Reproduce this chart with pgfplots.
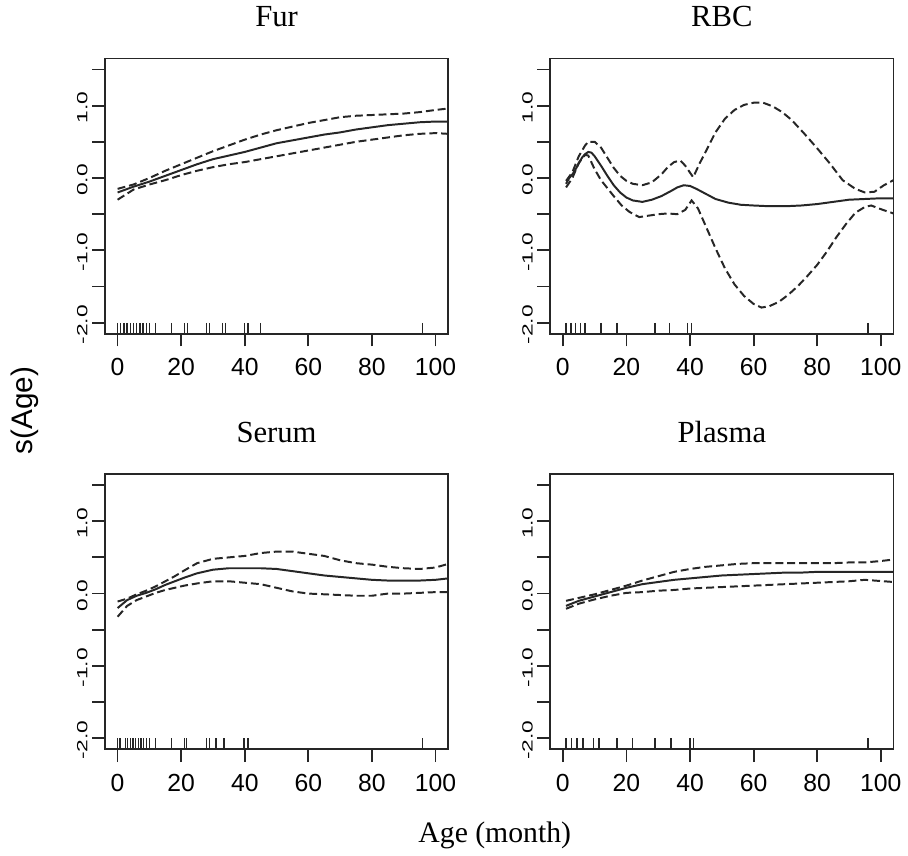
\documentclass[border=0pt]{standalone}
\usepackage{fontspec}
\setmainfont{Liberation Serif}
\setsansfont{Liberation Sans}
\usepackage{pgfplots}
\pgfplotsset{compat=1.18}

\pgfplotsset{
  rplot/.style={
    scale only axis, width=173.5pt, height=139pt, anchor=south west,
    xmin=-4, xmax=104, ymin=-2.15, ymax=1.65,
    axis line style={line width=0.9pt, black!85},
    xtick={0,20,...,100}, ytick={-2,-1.5,...,1.5},
    yticklabels={-2.0,,-1.0,,0.0,,1.0,},
    tick align=outside, tick pos=left,
    major tick length=6.5pt,
    tick style={line width=0.9pt, black!85},
    /pgf/number format/assume math mode=true,
    xticklabel style={font=\sffamily\fontsize{12.5}{14}\selectfont, anchor=north, yshift=-2.5pt},
    yticklabel style={font=\sffamily\fontsize{11.5}{13}\selectfont, rotate=90, yscale=0.65, anchor=south, xshift=-1pt},
    title style={font=\fontsize{15.5}{18}\selectfont, at={(0.5,1)}, anchor=base, yshift=10pt},
  },
  fit/.style={line width=1pt, black!85},
  band/.style={line width=1pt, black!85, dash pattern=on 4pt off 2pt},
  rug/.style={only marks, mark=|, mark size=2.75pt, mark options={line width=0.7pt, black!85}},
}

\begin{document}
\begin{tikzpicture}
\path (0,0) rectangle (454pt,428.5pt);

% Fur
\begin{axis}[rplot, at={(53pt,262pt)}, title={Fur}]
\addplot[fit] coordinates {(0,-0.20) (5,-0.12) (10,-0.05) (15,0.03) (20,0.11) (25,0.19) (30,0.26) (35,0.31) (40,0.36) (45,0.42) (50,0.48) (55,0.52) (60,0.56) (65,0.60) (70,0.63) (75,0.67) (80,0.70) (85,0.73) (90,0.75) (95,0.77) (100,0.78) (104,0.78)};
\addplot[band] coordinates {(0,-0.15) (5,-0.09) (10,0.00) (15,0.10) (20,0.19) (25,0.28) (30,0.37) (35,0.45) (40,0.53) (45,0.60) (50,0.66) (55,0.71) (60,0.76) (65,0.80) (70,0.84) (75,0.86) (80,0.87) (85,0.88) (90,0.89) (95,0.91) (100,0.94) (104,0.96)};
\addplot[band] coordinates {(0,-0.30) (5,-0.16) (10,-0.09) (15,-0.03) (20,0.04) (25,0.10) (30,0.15) (35,0.19) (40,0.22) (45,0.26) (50,0.30) (55,0.34) (60,0.38) (65,0.42) (70,0.46) (75,0.50) (80,0.53) (85,0.56) (90,0.59) (95,0.61) (100,0.62) (104,0.61)};
\addplot[rug] coordinates {(0,-2.075) (1,-2.075) (2,-2.075) (3,-2.075) (4,-2.075) (5,-2.075) (6,-2.075) (7,-2.075) (8,-2.075) (9,-2.075) (10,-2.075) (12,-2.075) (17,-2.075) (21,-2.075) (22,-2.075) (28,-2.075) (29,-2.075) (33,-2.075) (34,-2.075) (40,-2.075) (41,-2.075) (45,-2.075) (96,-2.075)};
\end{axis}

% RBC
\begin{axis}[rplot, at={(278pt,262pt)}, title={RBC}]
\addplot[fit] coordinates {(1,-0.08) (2,0.00) (3,0.05) (4,0.12) (5,0.20) (6,0.28) (7,0.33) (8,0.36) (9,0.35) (10,0.30) (12,0.17) (14,0.03) (16,-0.10) (18,-0.20) (20,-0.27) (22,-0.31) (25,-0.33) (28,-0.30) (31,-0.25) (34,-0.18) (36,-0.13) (38,-0.10) (40,-0.11) (42,-0.15) (45,-0.22) (48,-0.29) (52,-0.34) (56,-0.37) (60,-0.38) (65,-0.39) (70,-0.39) (75,-0.38) (80,-0.36) (85,-0.33) (90,-0.30) (95,-0.29) (100,-0.28) (104,-0.28)};
\addplot[band] coordinates {(1,-0.04) (3,0.08) (5,0.30) (7,0.45) (8,0.50) (10,0.50) (12,0.42) (14,0.28) (16,0.14) (18,0.03) (20,-0.04) (22,-0.08) (25,-0.10) (28,-0.06) (31,0.05) (33,0.15) (35,0.22) (37,0.24) (38.5,0.17) (41,0.01) (43,0.20) (45,0.37) (48,0.63) (51,0.82) (54,0.94) (57,1.01) (60,1.04) (63,1.04) (66,0.99) (69,0.91) (72,0.80) (76,0.61) (80,0.41) (84,0.20) (88,-0.03) (92,-0.15) (95,-0.20) (98,-0.19) (101,-0.10) (104,-0.03)};
\addplot[band] coordinates {(1,-0.13) (3,0.00) (5,0.21) (7,0.32) (8,0.31) (10,0.12) (12,-0.03) (14,-0.14) (16,-0.25) (18.5,-0.38) (21,-0.47) (24,-0.54) (27,-0.52) (30,-0.50) (33,-0.49) (36,-0.50) (38.5,-0.44) (40.5,-0.31) (42.5,-0.42) (45,-0.67) (48,-0.97) (51,-1.25) (54,-1.47) (57,-1.63) (60,-1.74) (62.5,-1.79) (65,-1.77) (68,-1.71) (71,-1.61) (74,-1.49) (77,-1.35) (80,-1.20) (83,-1.02) (86,-0.82) (89,-0.64) (92,-0.48) (95,-0.40) (97,-0.38) (100,-0.43) (104,-0.49)};
\addplot[rug] coordinates {(1,-2.075) (2.5,-2.075) (4,-2.075) (5.5,-2.075) (7,-2.075) (12,-2.075) (17,-2.075) (29,-2.075) (33.5,-2.075) (39.3,-2.075) (40.4,-2.075) (96,-2.075)};
\end{axis}

% Serum
\begin{axis}[rplot, at={(53pt,52pt)}, title={Serum}]
\addplot[fit] coordinates {(0,-0.20) (3,-0.09) (6,-0.03) (9,0.01) (12,0.06) (15,0.12) (18,0.17) (21,0.22) (25,0.28) (30,0.33) (35,0.35) (40,0.35) (45,0.35) (50,0.34) (55,0.31) (60,0.28) (65,0.25) (70,0.23) (75,0.21) (80,0.19) (85,0.18) (90,0.18) (95,0.18) (100,0.19) (104,0.21)};
\addplot[band] coordinates {(0,-0.11) (3,-0.07) (6,-0.01) (9,0.04) (12,0.10) (15,0.17) (18,0.24) (21,0.32) (25,0.42) (30,0.48) (35,0.50) (40,0.52) (45,0.56) (50,0.58) (55,0.58) (60,0.55) (65,0.52) (70,0.46) (75,0.42) (80,0.40) (85,0.37) (90,0.35) (95,0.34) (100,0.36) (104,0.41)};
\addplot[band] coordinates {(0,-0.32) (3,-0.17) (6,-0.09) (9,-0.04) (12,0.01) (15,0.05) (18,0.08) (21,0.11) (25,0.14) (30,0.17) (35,0.17) (40,0.15) (45,0.13) (50,0.08) (55,0.03) (60,0.00) (65,-0.01) (70,-0.02) (75,-0.03) (80,-0.03) (85,0.00) (90,0.00) (95,0.01) (100,0.02) (104,0.02)};
\addplot[rug] coordinates {(0,-2.075) (0.8,-2.075) (2.4,-2.075) (3.2,-2.075) (4,-2.075) (4.9,-2.075) (5.7,-2.075) (6.5,-2.075) (7.4,-2.075) (8.2,-2.075) (9.1,-2.075) (10,-2.075) (12,-2.075) (17,-2.075) (21,-2.075) (21.7,-2.075) (28,-2.075) (29,-2.075) (31,-2.075) (33.5,-2.075) (39.8,-2.075) (41,-2.075) (96,-2.075)};
\end{axis}

% Plasma
\begin{axis}[rplot, at={(278pt,52pt)}, title={Plasma}]
\addplot[fit] coordinates {(1,-0.17) (5,-0.10) (10,-0.04) (15,0.02) (20,0.08) (25,0.13) (30,0.16) (35,0.19) (40,0.21) (45,0.23) (50,0.25) (55,0.26) (60,0.27) (65,0.28) (70,0.29) (75,0.29) (80,0.30) (85,0.30) (90,0.30) (95,0.30) (100,0.30) (104,0.30)};
\addplot[band] coordinates {(1,-0.10) (5,-0.06) (10,-0.01) (15,0.05) (20,0.11) (25,0.18) (30,0.24) (35,0.30) (40,0.34) (45,0.37) (50,0.39) (55,0.41) (60,0.42) (65,0.42) (70,0.42) (75,0.42) (80,0.42) (85,0.42) (90,0.43) (95,0.43) (100,0.45) (104,0.47)};
\addplot[band] coordinates {(1,-0.21) (5,-0.14) (10,-0.08) (15,-0.03) (20,0.01) (25,0.02) (30,0.04) (35,0.05) (40,0.07) (45,0.08) (50,0.09) (55,0.10) (60,0.11) (65,0.12) (70,0.13) (75,0.14) (80,0.15) (85,0.16) (90,0.17) (95,0.19) (98,0.18) (104,0.16)};
\addplot[rug] coordinates {(1,-2.075) (2.7,-2.075) (4.5,-2.075) (6.3,-2.075) (9.7,-2.075) (11.4,-2.075) (17,-2.075) (22,-2.075) (29,-2.075) (34,-2.075) (40,-2.075) (41,-2.075) (96,-2.075)};
\end{axis}

\node[rotate=90, font=\sffamily\fontsize{15}{18}\selectfont] at (12.5pt,223pt) {s(Age)};
\node[anchor=base, font=\fontsize{15}{18}\selectfont] at (250pt,5pt) {Age (month)};
\end{tikzpicture}
\end{document}
